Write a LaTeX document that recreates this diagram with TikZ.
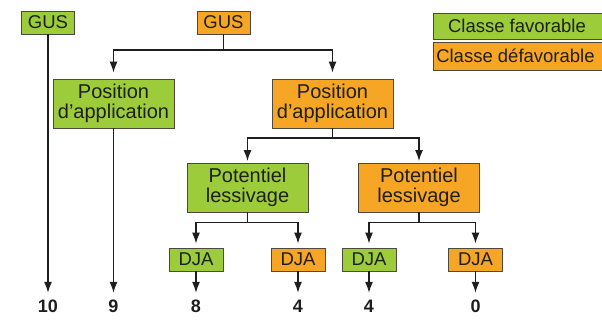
\documentclass[tikz,border=0pt]{standalone}
\usepackage{fontspec}
\setmainfont{Liberation Sans}
\usetikzlibrary{arrows.meta}
\definecolor{fav}{RGB}{156,204,58}
\definecolor{defav}{RGB}{246,166,36}
\definecolor{edge}{RGB}{80,72,60}
\definecolor{ink}{RGB}{30,30,30}
\tikzset{
  box/.style={draw=edge, line width=0.9pt, inner sep=0pt, align=center,
    text=ink, font=\fontsize{18.5}{20}\selectfont},
  good/.style={box, fill=fav},
  bad/.style={box, fill=defav},
  small/.style={minimum width=54pt, minimum height=23pt},
  big/.style={minimum width=121pt, minimum height=49pt,
    font=\fontsize{20}{20.5}\selectfont},
  legend/.style={minimum width=175pt, anchor=west},
  num/.style={inner sep=0pt, minimum height=14pt, text=ink,
    font=\fontsize{18}{20}\selectfont\bfseries},
  conn/.style={draw=ink, line width=1.3pt,
    -{Latex[length=11pt,width=8pt]}},
  link/.style={draw=ink, line width=1.3pt},
}
\begin{document}
\begin{tikzpicture}[x=1pt,y=-1pt]
\useasboundingbox (0,0) rectangle (602,320);

% legend
\node[good, legend, minimum height=26pt] (lg) at (433,26) {\hspace*{-8pt}Classe favorable};
\node[bad, legend, minimum height=28pt] (lb) at (433,56) {\hspace*{-11pt}Classe défavorable};

% top level
\node[good, small, minimum width=53pt] (gusA) at (48,22.5) {GUS};
\node[bad, small, minimum width=53pt] (gusB) at (223.5,22.5) {GUS};

% second level
\node[good, big] (posA) at (113.5,103.5) {Position\\d’application};
\node[bad, big] (posB) at (332.5,103.5) {Position\\d’application};

% third level
\node[good, big] (potA) at (247.5,187.5) {Potentiel\\lessivage};
\node[bad, big] (potB) at (419,187.5) {Potentiel\\lessivage};

% fourth level
\node[good, small] (djaA) at (196,259.5) {DJA};
\node[bad, small] (djaB) at (298,259.5) {DJA};
\node[good, small] (djaC) at (369,259.5) {DJA};
\node[bad, small] (djaD) at (475.5,259.5) {DJA};

% scores
\node[num] (s10) at (48,306) {10};
\node[num] (s9) at (113.5,306) {9};
\node[num] (s8) at (196,306) {8};
\node[num] (s4a) at (298,306) {4};
\node[num] (s4b) at (369,306) {4};
\node[num] (s0) at (475.5,306) {0};

% branching points
\coordinate (bB) at (223.5,50);
\coordinate (bPos) at (332.5,138);
\coordinate (bPotA) at (247.5,222.5);
\coordinate (bPotB) at (419,222.5);

% connectors
\draw[link] (gusB.south) -- (bB);
\draw[conn, shorten >=6pt] (bB) -| (posA.north);
\draw[conn, shorten >=6pt] (bB) -| (posB.north);

\draw[link] (posB.south) -- (bPos);
\draw[conn, shorten >=1.5pt] (bPos) -| (potA.north);
\draw[conn, shorten >=1.5pt] (bPos) -| (potB.north);

\draw[link] (potA.south) -- (bPotA);
\draw[conn, shorten >=4pt] (bPotA) -| (djaA.north);
\draw[conn, shorten >=4pt] (bPotA) -| (djaB.north);

\draw[link] (potB.south) -- (bPotB);
\draw[conn, shorten >=4pt] (bPotB) -| (djaC.north);
\draw[conn, shorten >=4pt] (bPotB) -| (djaD.north);

\draw[conn, shorten >=6pt] (gusA.south) -- (s10.north);
\draw[conn, shorten >=6pt] (posA.south) -- (s9.north);
\draw[conn, shorten >=6pt] (djaA.south) -- (s8.north);
\draw[conn, shorten >=6pt] (djaB.south) -- (s4a.north);
\draw[conn, shorten >=6pt] (djaC.south) -- (s4b.north);
\draw[conn, shorten >=6pt] (djaD.south) -- (s0.north);
\end{tikzpicture}
\end{document}
